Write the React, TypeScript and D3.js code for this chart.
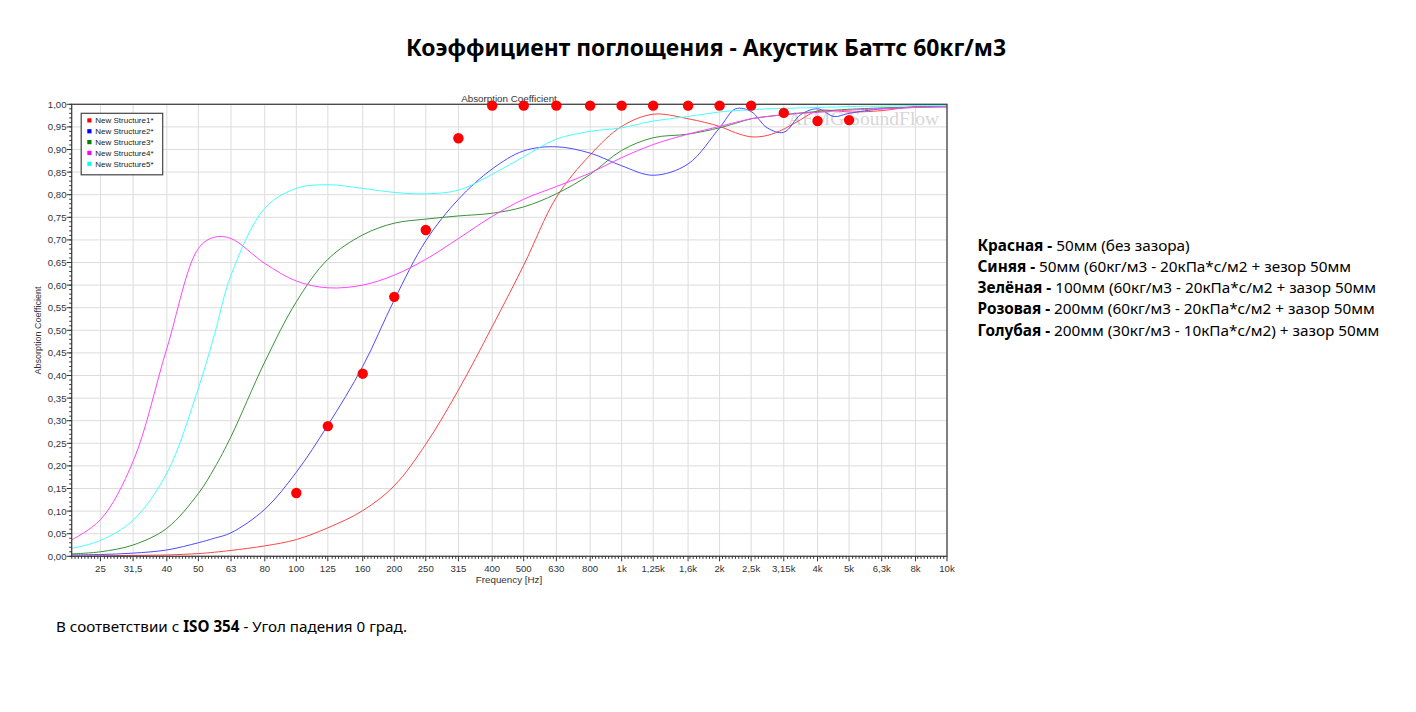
import * as d3 from 'd3'

// third-octave bands (plus a few in-between points)
const freqs = [20, 25, 31.5, 40, 50, 56, 63, 80, 100, 125, 160, 200, 250, 315, 400, 500, 630, 800, 1000, 1250, 1600, 2000, 2240, 2500, 2800, 3150, 3550, 4000, 4500, 5000, 6300, 8000, 10000]

const structure1 = [0.0, 0.001, 0.002, 0.003, 0.006, 0.009, 0.013, 0.023, 0.037, 0.063, 0.101, 0.156, 0.248, 0.368, 0.508, 0.644, 0.794, 0.888, 0.951, 0.978, 0.968, 0.951, 0.937, 0.928, 0.931, 0.945, 0.966, 0.986, 0.986, 0.983, 0.986, 0.995, 0.994]
const structure2 = [0.003, 0.004, 0.007, 0.014, 0.03, 0.04, 0.052, 0.104, 0.186, 0.29, 0.42, 0.567, 0.698, 0.79, 0.857, 0.897, 0.906, 0.892, 0.864, 0.843, 0.868, 0.948, 0.99, 0.984, 0.948, 0.938, 0.977, 0.99, 0.973, 0.98, 0.99, 0.993, 0.995]
const structure3 = [0.005, 0.01, 0.025, 0.062, 0.139, 0.195, 0.265, 0.43, 0.563, 0.657, 0.711, 0.737, 0.746, 0.753, 0.759, 0.773, 0.802, 0.845, 0.898, 0.926, 0.934, 0.948, 0.958, 0.968, 0.973, 0.977, 0.981, 0.984, 0.987, 0.989, 0.992, 0.994, 0.995]
const structure4 = [0.033, 0.081, 0.21, 0.46, 0.681, 0.706, 0.703, 0.648, 0.609, 0.594, 0.6, 0.622, 0.657, 0.703, 0.752, 0.79, 0.818, 0.848, 0.882, 0.911, 0.934, 0.951, 0.96, 0.968, 0.973, 0.977, 0.98, 0.982, 0.985, 0.987, 0.99, 0.993, 0.995]
const structure5 = [0.016, 0.035, 0.08, 0.184, 0.372, 0.49, 0.622, 0.77, 0.814, 0.822, 0.814, 0.805, 0.802, 0.81, 0.845, 0.884, 0.923, 0.94, 0.948, 0.963, 0.973, 0.983, 0.986, 0.988, 0.99, 0.991, 0.992, 0.993, 0.994, 0.995, 0.996, 0.997, 0.997]

// measured points (red dots)
const measuredFreqs = [100, 125, 160, 200, 250, 315, 400, 500, 630, 800, 1000, 1250, 1600, 2000, 2500, 3150, 4000, 5000]
const measured = [0.14, 0.288, 0.404, 0.574, 0.722, 0.925, 0.997, 0.997, 0.997, 0.997, 0.997, 0.997, 0.997, 0.997, 0.997, 0.981, 0.963, 0.965]

const seriesNames = ['New Structure1*', 'New Structure2*', 'New Structure3*', 'New Structure4*', 'New Structure5*']
const seriesValues = [structure1, structure2, structure3, structure4, structure5]
const lineColors = ['#ff4545', '#4d4dff', '#3a923a', '#ff45ff', '#45ffff']
const legendColors = ['#ff0000', '#0000ff', '#008000', '#ff00ff', '#00ffff']

const xTicks = [25, 31.5, 40, 50, 63, 80, 100, 125, 160, 200, 250, 315, 400, 500, 630, 800, 1000, 1250, 1600, 2000, 2500, 3150, 4000, 5000, 6300, 8000, 10000]
const xTickLabels = ['25', '31,5', '40', '50', '63', '80', '100', '125', '160', '200', '250', '315', '400', '500', '630', '800', '1k', '1,25k', '1,6k', '2k', '2,5k', '3,15k', '4k', '5k', '6,3k', '8k', '10k']
const yTicks = d3.range(0, 21).map((i) => i * 0.05)

const notes = [
  ['Красная - ', '50мм (без зазора)'],
  ['Синяя - ', '50мм (60кг/м3 - 20кПа*с/м2 + зезор 50мм'],
  ['Зелёная - ', '100мм (60кг/м3 - 20кПа*с/м2 + зазор 50мм'],
  ['Розовая - ', '200мм (60кг/м3 - 20кПа*с/м2 + зазор 50мм'],
  ['Голубая - ', '200мм (30кг/м3 - 10кПа*с/м2) + зазор 50мм'],
]

const W = 1416
const H = 712
const left = 71.7
const right = 947
const top = 104.3
const bottom = 556.3

const x = d3.scaleLog().domain([20.4, 10000]).range([left, right])
const y = d3.scaleLinear().domain([0, 1]).range([bottom, top])

const axisFont = '"Liberation Sans", Arial, sans-serif'
const uiFont = '"Noto Sans", "Open Sans", sans-serif'

const minorX: number[] = []
for (let k = 13; k < 40; k++) {
  for (let j = 1; j < 10; j++) {
    const f = Math.pow(10, (k + j / 10) / 10)
    if (f > 20.4 && f < 10000) minorX.push(f)
  }
}
const minorY = d3.range(0, 101).map((i) => i / 100)
const fmtY = (v: number) => d3.format('.2f')(v).replace('.', ',')

const line = d3
  .line<number>()
  .x((_, i) => x(freqs[i]))
  .y((d) => y(d))
  .curve(d3.curveCatmullRom.alpha(0.5))

export default function App() {
  return (
    <svg width={W} height={H} style={{ position: 'absolute', left: 0, top: 0, background: '#fff' }}>
      <defs>
        <clipPath id="plot">
          <rect x={left} y={top - 2} width={right - left} height={bottom - top + 2} />
        </clipPath>
      </defs>

      <text x={706} y={56} textAnchor="middle" fontFamily={uiFont} fontWeight="bold" fontSize={22.9} fill="#000">
        Коэффициент поглощения - Акустик Баттс 60кг/м3
      </text>

      {/* grid */}
      <g stroke="#dcdcdc" strokeWidth={1}>
        {yTicks.map((t) => (
          <line key={'gy' + t} x1={left} x2={right} y1={y(t)} y2={y(t)} />
        ))}
        {xTicks.map((t) => (
          <line key={'gx' + t} x1={x(t)} x2={x(t)} y1={top} y2={bottom} />
        ))}
      </g>

      <text x={788} y={125} fontFamily='"Liberation Serif", "Times New Roman", serif' fontSize={19.5} fill="#d6d6d6">
        AFMG SoundFlow
      </text>

      {/* curves */}
      <g clipPath="url(#plot)" fill="none" strokeWidth={1}>
        {seriesValues.map((vals, i) => (
          <path key={seriesNames[i]} d={line(vals) || ''} stroke={lineColors[i]} />
        ))}
      </g>

      {/* frame */}
      <rect x={left} y={top} width={right - left} height={bottom - top} fill="none" stroke="#444" strokeWidth={1.3} />

      {/* axis ticks */}
      <g stroke="#333" strokeWidth={1}>
        {minorY.map((t) => (
          <line key={'my' + t} x1={left - 2.5} x2={left} y1={y(t)} y2={y(t)} />
        ))}
        {yTicks.map((t) => (
          <line key={'ty' + t} x1={left - 5} x2={left} y1={y(t)} y2={y(t)} />
        ))}
        {minorX.map((t) => (
          <line key={'mx' + t} x1={x(t)} x2={x(t)} y1={bottom} y2={bottom + 2.5} />
        ))}
        {xTicks.map((t) => (
          <line key={'tx' + t} x1={x(t)} x2={x(t)} y1={bottom} y2={bottom + 5} />
        ))}
      </g>
      <g fontFamily={axisFont} fontSize={9.6} fill="#333">
        {yTicks.map((t) => (
          <text key={'ly' + t} x={66.5} y={y(t) + 3.4} textAnchor="end">
            {fmtY(t)}
          </text>
        ))}
        {xTicks.map((t, i) => (
          <text key={'lx' + t} x={x(t)} y={572} textAnchor="middle">
            {xTickLabels[i]}
          </text>
        ))}
        <text x={509} y={582.5} textAnchor="middle" fontSize={9.8}>
          Frequency [Hz]
        </text>
        <text x={509} y={101.5} textAnchor="middle" fontSize={9.8}>
          Absorption Coefficient
        </text>
        <text transform="translate(40.5,330.5) rotate(-90)" textAnchor="middle" fontSize={9}>
          Absorption Coefficient
        </text>
      </g>

      {/* measured dots */}
      <g fill="#ff0000">
        {measuredFreqs.map((f, i) => (
          <circle key={'m' + f} cx={x(f)} cy={y(measured[i])} r={5.2} />
        ))}
      </g>

      {/* legend */}
      <rect x={81.2} y={113.3} width={81.5} height={61.5} fill="#fff" stroke="#444" strokeWidth={1.2} />
      {seriesNames.map((n, i) => (
        <g key={'lg' + n}>
          <rect x={87.3} y={118.3 + i * 10.85} width={4.2} height={4.2} fill={legendColors[i]} />
          <text x={95.3} y={123.2 + i * 10.85} fontFamily={axisFont} fontSize={8} fill="#222">
            {n}
          </text>
        </g>
      ))}

      {/* right notes */}
      <g fontFamily={uiFont} fontSize={15.3} fill="#000">
        {notes.map((n, i) => (
          <text key={'n' + i} x={977.5} y={250.5 + i * 21.3}>
            <tspan fontWeight="bold">{n[0]}</tspan>
            <tspan>{n[1]}</tspan>
          </text>
        ))}
      </g>

      <text x={56} y={632} fontFamily={uiFont} fontSize={15.2} fill="#000">
        <tspan>В соответствии с </tspan>
        <tspan fontWeight="bold">ISO 354</tspan>
        <tspan> - Угол падения 0 град.</tspan>
      </text>
    </svg>
  )
}
